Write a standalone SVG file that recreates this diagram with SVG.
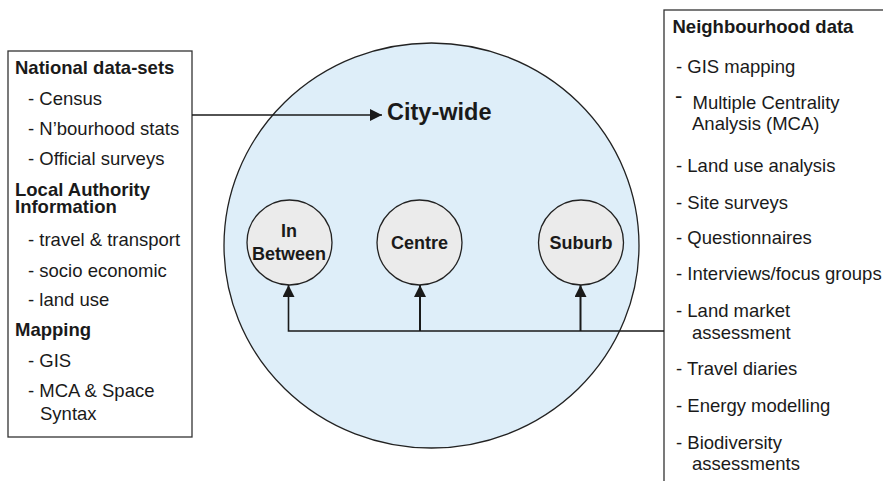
<svg xmlns="http://www.w3.org/2000/svg" width="883" height="481" viewBox="0 0 883 481">
<style>
.t{font-family:"Liberation Sans",Arial,sans-serif;font-size:18.5px;fill:#1a1a1a}
.b{font-weight:bold}
.box{fill:#fff;stroke:#333;stroke-width:1.3}
.con{fill:none;stroke:#1a1a1a;stroke-width:1.6}
.sm{fill:#ebebeb;stroke:#222;stroke-width:1.3}
</style>
<defs>
<marker id="ah" markerUnits="userSpaceOnUse" markerWidth="13" markerHeight="13" refX="12" refY="6" orient="auto">
<path d="M0,0 L12,6 L0,12 Z" fill="#1a1a1a"/>
</marker>
</defs>
<rect width="883" height="481" fill="#fff"/>
<g id="city">
<ellipse cx="431.5" cy="245.5" rx="207.5" ry="202.5" fill="#deeef9" stroke="#222" stroke-width="1.3"/>
<text class="t b" x="387" y="120" style="font-size:23.5px">City-wide</text>
</g>
<g id="national">
<rect class="box" x="8" y="51" width="184" height="386"/>
<text class="t b" x="15" y="73.5">National data-sets</text>
<text class="t" x="28" y="105">- Census</text>
<text class="t" x="28" y="135">- N’bourhood stats</text>
<text class="t" x="28" y="165">- Official surveys</text>
<text class="t b" x="15" y="195.5">Local Authority</text>
<text class="t b" x="15" y="213">Information</text>
<text class="t" x="28" y="245.5">- travel &amp; transport</text>
<text class="t" x="28" y="276.5">- socio economic</text>
<text class="t" x="28" y="305.5">- land use</text>
<text class="t b" x="15" y="336">Mapping</text>
<text class="t" x="28" y="366.5">- GIS</text>
<text class="t" x="28" y="396.5">- MCA &amp; Space</text>
<text class="t" x="40" y="419.5">Syntax</text>
</g>
<g id="neighbourhood">
<rect class="box" x="664" y="10" width="230" height="480"/>
<text class="t b" x="672.5" y="32.5">Neighbourhood data</text>
<text class="t" x="676" y="72.5">- GIS mapping</text>
<text class="t" x="675" y="103" style="font-size:22px">-</text>
<text class="t" x="692.5" y="109">Multiple Centrality</text>
<text class="t" x="692" y="130">Analysis (MCA)</text>
<text class="t" x="676" y="171.5">- Land use analysis</text>
<text class="t" x="676" y="208.5">- Site surveys</text>
<text class="t" x="676" y="243.5">- Questionnaires</text>
<text class="t" x="676" y="280">- Interviews/focus groups</text>
<text class="t" x="676" y="316.5">- Land market</text>
<text class="t" x="692" y="338.5">assessment</text>
<text class="t" x="676" y="375">- Travel diaries</text>
<text class="t" x="676" y="411.5">- Energy modelling</text>
<text class="t" x="676" y="448.5">- Biodiversity</text>
<text class="t" x="692" y="469.5">assessments</text>
</g>
<g id="inbetween">
<circle class="sm" cx="289.5" cy="242.5" r="42.5"/>
<text class="t b" x="289" y="236.5" text-anchor="middle" style="font-size:18px">In</text>
<text class="t b" x="289" y="260" text-anchor="middle" style="font-size:18px">Between</text>
</g>
<g id="centre">
<circle class="sm" cx="419.5" cy="242.5" r="42.5"/>
<text class="t b" x="419.5" y="248.5" text-anchor="middle" style="font-size:18px">Centre</text>
</g>
<g id="suburb">
<circle class="sm" cx="581" cy="242.5" r="42.5"/>
<text class="t b" x="581" y="248.5" text-anchor="middle" style="font-size:18px">Suburb</text>
</g>
<g id="connectors">
<line class="con" x1="192" y1="115" x2="382" y2="115" marker-end="url(#ah)"/>
<polyline class="con" points="664,331 288.5,331 288.5,285" marker-end="url(#ah)"/>
<line class="con" x1="420" y1="331" x2="420" y2="285" marker-end="url(#ah)" style="stroke-width:2"/>
<line class="con" x1="580.5" y1="331" x2="580.5" y2="285" marker-end="url(#ah)" style="stroke-width:2"/>
</g>
</svg>
